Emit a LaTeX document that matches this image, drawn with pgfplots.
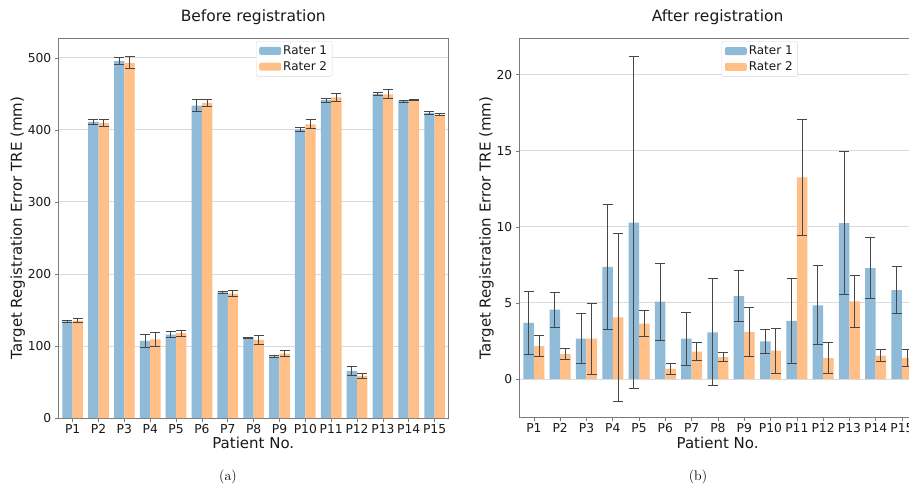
\documentclass[border=0pt]{standalone}
\usepackage{fontspec}
\usepackage{pgfplots}
\pgfplotsset{compat=1.18}
\usepackage{pgfplotstable}
\newfontfamily\dv{DejaVu Sans}
\definecolor{c1}{HTML}{8FBBD9}
\definecolor{c2}{HTML}{FFBF86}
\definecolor{gridc}{HTML}{DADADA}
\definecolor{framec}{HTML}{7A7A7A}

\pgfplotstableread{
x r1 e1 r2 e2
0 134 1.5 135.3 3.3
1 411 3.2 409.7 5.3
2 495.4 4.9 493 8.5
3 107 8.8 109.3 10
4 115.8 4.7 117.7 4.4
5 433.6 8.6 437.5 5.1
6 174.4 1.9 172.8 4.4
7 111.2 0.5 108.4 5.8
8 85.6 1.6 89.3 4.2
9 400.5 2.8 407.6 6.2
10 441.2 3 445 5.1
11 65.3 6.7 58.6 3.3
12 450 2.5 449.3 6.2
13 439.8 1.4 441.7 0.5
14 423.6 2.1 421.3 1.9
}\before

\pgfplotstableread{
x r1 e1 r2 e2
0 3.68 2.07 2.16 0.67
1 4.55 1.15 1.63 0.37
2 2.65 1.63 2.65 2.34
3 7.37 4.11 4.05 5.5
4 10.28 10.93 3.63 0.84
5 5.08 2.52 0.66 0.36
6 2.65 1.75 1.79 0.6
7 3.06 3.52 1.44 0.29
8 5.45 1.70 3.09 1.6
9 2.47 0.77 1.86 1.48
10 3.81 2.79 13.25 3.8
11 4.84 2.59 1.36 1.02
12 10.24 4.71 5.10 1.72
13 7.29 2.00 1.53 0.4
14 5.84 1.53 1.38 0.58
}\after

\pgfplotsset{
  common/.style={
    scale only axis,
    ybar,
    bar width=0.4,
    xmin=-0.555, xmax=14.53,
    xtick={0,...,14},
    xticklabels={P1,P2,P3,P4,P5,P6,P7,P8,P9,P10,P11,P12,P13,P14,P15},
    axis line style={framec, line width=0.7pt},
    tick style={framec, line width=0.6pt},
    tick align=outside,
    major tick length=3.5pt,
    xtick pos=bottom, ytick pos=left,
    ymajorgrids, grid style={gridc, line width=0.8pt},
    /pgf/number format/assume math mode=true,
    tick label style={font=\fontsize{12.3}{14}\selectfont\dv, text=black!90},
    xticklabel style={yshift=1pt},
    label style={font=\fontsize{15}{18}\selectfont\dv, text=black!90},
    title style={font=\fontsize{15.5}{18}\selectfont\dv, text=black!90},
    xlabel={Patient No.},
    ylabel={Target Registration Error TRE (mm)},
    legend style={font=\fontsize{12}{14}\selectfont\dv, draw=black!15, rounded corners=2pt,
      anchor=north west, inner xsep=3pt, inner ysep=2.5pt, row sep=1.5pt, cells={anchor=west}, text=black!90},
    legend image code/.code={\fill[#1,draw=none] (0pt,-4pt) rectangle (22pt,4pt);},
    error bars/y dir=both,
    error bars/y explicit,
    error bars/error bar style={black!72, line width=0.95pt},
    error bars/error mark options={black!72, line width=0.95pt, mark size=5pt, rotate=90},
  }
}

\begin{document}
\begin{tikzpicture}
\useasboundingbox (0pt,0pt) rectangle (909pt,485pt);
\clip (0pt,0pt) rectangle (909pt,485pt);
\begin{axis}[common,
  at={(58.3pt,67pt)}, anchor=south west,
  width=390pt, height=380pt,
  ymin=0, ymax=527.5,
  ytick={0,100,200,300,400,500},
  title={Before registration},
  title style={at={(0.5,1)}, yshift=4pt},
  legend style={at={(0.507,0.992)}},
  xlabel style={yshift=3pt},
  ylabel style={yshift=-4pt},
]
\addplot+[fill=c1, draw=none, bar shift=-0.2] table[x=x, y=r1, y error=e1] {\before};
\addlegendentry{Rater 1}
\addplot+[fill=c2, draw=none, bar shift=0.2] table[x=x, y=r2, y error=e2] {\before};
\addlegendentry{Rater 2}
\end{axis}

\begin{axis}[common,
  at={(519.3pt,67.3pt)}, anchor=south west,
  width=396.6pt, height=379.4pt,
  ymin=-2.55, ymax=22.4,
  ytick={0,5,10,15,20},
  title={After registration},
  title style={at={(0.5,1)}, yshift=4pt},
  legend style={at={(0.510,0.992)}},
  xlabel style={yshift=3pt},
  ylabel style={yshift=-4pt},
]
\addplot+[fill=c1, draw=none, bar shift=-0.2] table[x=x, y=r1, y error=e1] {\after};
\addlegendentry{Rater 1}
\addplot+[fill=c2, draw=none, bar shift=0.2] table[x=x, y=r2, y error=e2] {\after};
\addlegendentry{Rater 2}
\end{axis}

\node[font=\fontsize{14}{16}\selectfont] at (228pt,8pt) {(a)};
\node[font=\fontsize{14}{16}\selectfont] at (698pt,8pt) {(b)};
\end{tikzpicture}
\end{document}
